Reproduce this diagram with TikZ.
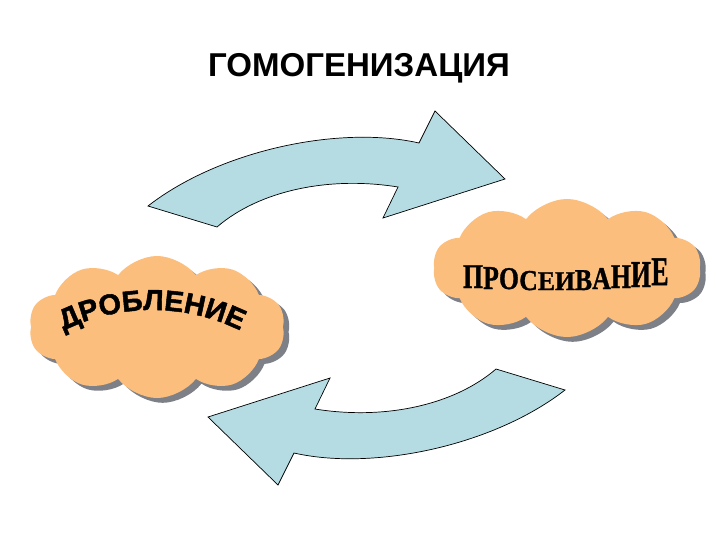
\documentclass[tikz,border=0pt]{standalone}
\usepackage{fontspec}
\setmainfont{Liberation Sans}
\newfontfamily\timesfont[BoldFeatures={FakeBold=1.2}]{Liberation Serif}
\newfontfamily\heavyfont[BoldFeatures={FakeBold=1.6}]{Liberation Sans}
\usepackage{graphicx}
\usetikzlibrary{shapes.symbols,shadows,decorations.text}
\definecolor{CloudOrange}{RGB}{252,190,125}
\definecolor{ArrowBlue}{RGB}{180,220,226}
\definecolor{ShadowGray}{RGB}{125,128,135}

\tikzset{
  puffcloud/.style={cloud, cloud puffs=10, cloud puff arc=105, cloud ignores aspect,
    fill=CloudOrange, draw=none,
    drop shadow={shadow xshift=.14cm, shadow yshift=-.12cm, fill=ShadowGray, opacity=1}},
  cyclearrow/.style={draw=black, line width=.5pt, fill=ArrowBlue, line join=miter},
  rletter/.style={anchor=base, inner sep=0pt, font=\timesfont\bfseries\fontsize{24.7}{28}\selectfont},
}

\begin{document}
\begin{tikzpicture}[x=0.025cm, y=-0.025cm]
  \useasboundingbox (0,0) rectangle (720,540);
  \node[font=\bfseries\fontsize{23.5}{28}\selectfont] (title) at (359,68.5) {ГОМОГЕНИЗАЦИЯ};
  % the two bent arrows, second one turned half round
  \foreach \ang in {0,180}
    \draw[cyclearrow, rotate around={\ang:(356.5,298)}]
      (148,206) .. controls (220,150) and (340,125) .. (419,143)
      -- (435,111) -- (505,179) -- (383,218) -- (398,187)
      .. controls (330,176) and (260,190) .. (217,227) -- cycle;
  % clouds
  \node[puffcloud, minimum width=6.4cm, minimum height=3.55cm] (drob) at (157,327) {};
  \node[puffcloud, minimum width=6.7cm, minimum height=3.45cm] (pros) at (567,268) {};
  % arched word on the left cloud
  \path[decorate, decoration={text along path, text align=center,
        text={|\heavyfont\bfseries\fontsize{20.5}{24}\selectfont|ДРОБЛЕНИЕ}}]
    (52,336.8) arc[start angle=-120, end angle=-60, radius=200];
  % squeezed word on the right cloud
  \foreach \ch/\cx/\by/\sy [count=\i] in {П/473/288/1.00, Р/491/289/0.96, О/509/289/0.91,
      С/528.5/290/0.83, Е/546.5/290/0.78, И/565/290/0.78, В/583.5/290/0.87,
      А/601.5/289/0.91, Н/621/288/1.00, И/641/287/1.09, Е/660/285/1.17}
    \node[rletter] (pl\i) at (\cx,\by) {\scalebox{.74}[\sy]{\ch}};
\end{tikzpicture}
\end{document}
